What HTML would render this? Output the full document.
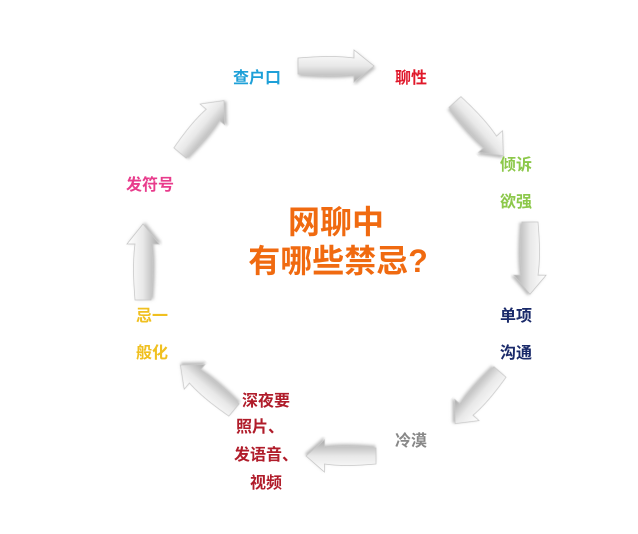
<!DOCTYPE html>
<html><head><meta charset="utf-8"><style>
body{margin:0;background:#fff;width:638px;height:529px;overflow:hidden}
text{font-family:"Liberation Sans","Noto Sans CJK SC",sans-serif;font-weight:bold}
</style></head><body>
<svg width="638" height="529" viewBox="0 0 638 529">
<defs>
<linearGradient id="g" x1="0" y1="0" x2="0" y2="1">
<stop offset="0" stop-color="#ffffff"/><stop offset="0.5" stop-color="#e8e8e8"/><stop offset="1" stop-color="#a8a8a8"/>
</linearGradient>
<filter id="s"><feDropShadow dx="1" dy="2" stdDeviation="1.5" flood-color="#888" flood-opacity="0.6"/></filter>
<g id="a"><path d="M0,-8 Q35,-11 56,-8 L56,-16 L76,0 L56,16 L56,8 Q35,11 0,8 Z" fill="url(#g)" stroke="#c8c8c8" stroke-width="0.8" filter="url(#s)"/></g>
</defs>
<use href="#a" transform="translate(298,66) scale(1,1)"/>
<use href="#a" transform="translate(455,102) rotate(48) scale(0.95,1)"/>
<use href="#a" transform="translate(530,222) rotate(90) scale(0.95,1)"/>
<use href="#a" transform="translate(500,372) rotate(131) scale(0.9,1)"/>
<use href="#a" transform="translate(376,456) rotate(180) scale(0.92,1)"/>
<use href="#a" transform="translate(234,410) rotate(220) scale(0.92,1)"/>
<use href="#a" transform="translate(143,300) rotate(270) scale(1,1)"/>
<use href="#a" transform="translate(180,153) rotate(-50) scale(0.9,1)"/>
<g font-size="16">
<text x="233" y="83" fill="#1ea0d8">查户口</text>
<text x="395" y="83" fill="#e0182a">聊性</text>
<text x="500" y="170" fill="#8cc84a">倾诉</text>
<text x="500" y="207" fill="#8cc84a">欲强</text>
<text x="500" y="321" fill="#1a2a6a">单项</text>
<text x="500" y="358" fill="#1a2a6a">沟通</text>
<text x="395" y="446" fill="#888">冷漠</text>
<text x="136" y="321" fill="#f0c020">忌一</text>
<text x="136" y="358" fill="#f0c020">般化</text>
<text x="126" y="190" fill="#e83c8c">发符号</text>
<g fill="#b01c2a" text-anchor="middle">
<text x="266" y="406">深夜要</text>
<text x="260" y="432">照片、</text>
<text x="266" y="460">发语音、</text>
<text x="266" y="488">视频</text>
</g>
</g>
<g font-size="32" fill="#f06a10" text-anchor="middle" font-weight="normal">
<text x="336" y="233" style="font-weight:600">网聊中</text>
<text x="338" y="272" style="font-weight:600">有哪些禁忌?</text>
</g>
</svg>
</body></html>
